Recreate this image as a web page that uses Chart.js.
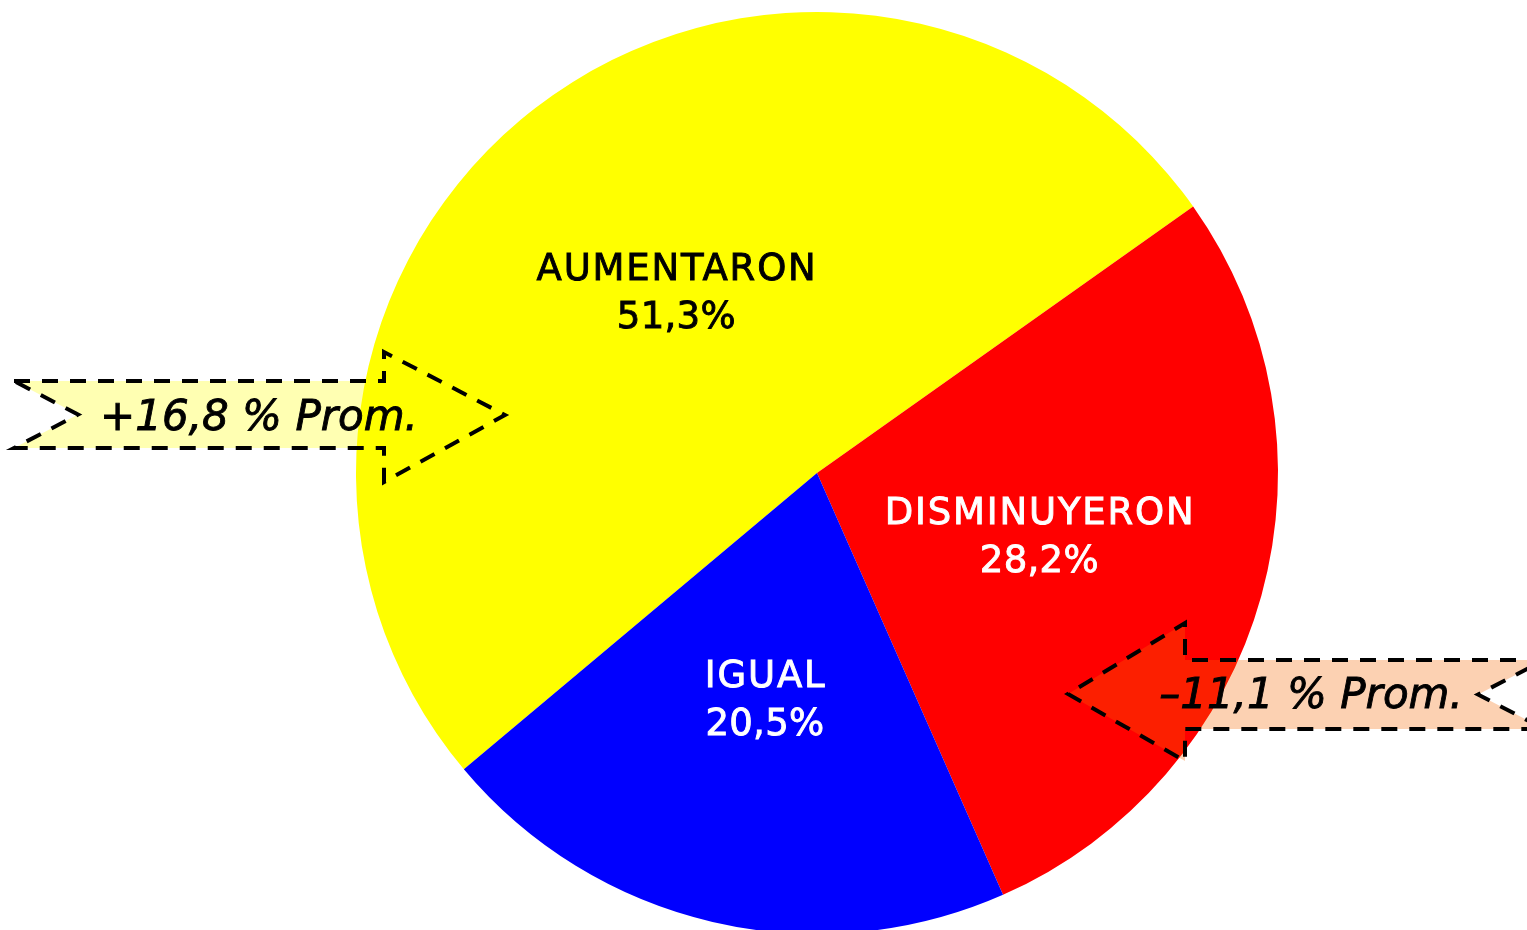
<!DOCTYPE html>
<html><head><meta charset="utf-8">
<script src="https://cdn.jsdelivr.net/npm/chart.js@4.4.0/dist/chart.umd.min.js"></script>
<style>html,body{margin:0;padding:0;background:#fff;overflow:hidden}</style>
</head><body>
<canvas id="c" width="1527" height="930" style="display:block;width:1527px;height:930px"></canvas>
<script>
// ---- data ----
const categories = ['AUMENTARON', 'DISMINUYERON', 'IGUAL'];
const values = [51.3, 28.2, 20.5];
const valueLabels = ['51,3%', '28,2%', '20,5%'];
const noteTexts = ['+16,8 % Prom.', '\u201311,1 % Prom.'];

// ---- styles ----
const sliceColors = ['#FFFF00', '#FF0000', '#0000FF'];
const labelColors = ['#000000', '#FFFFFF', '#FFFFFF'];

const noteShapes = [
  { tailX: 14, notchX: 78, bodyTop: 381, bodyBot: 448, headBaseX: 384, headTop: 352, headBot: 482, tipX: 505, tipY: 415,
    fill: 'rgba(255,255,0,0.3)', textX: 259, textY: 419 },
  { tailX: 1544, notchX: 1478, bodyTop: 660, bodyBot: 729, headBaseX: 1185, headTop: 623, headBot: 761, tipX: 1068, tipY: 694,
    fill: 'rgba(245,102,0,0.3)', textX: 1311, textY: 697 }
];

function drawText(ctx, txt, x, y, color, spacing) {
  ctx.letterSpacing = spacing + 'px';
  ctx.fillStyle = color;
  ctx.strokeStyle = color;
  ctx.lineWidth = 0.9;
  ctx.fillText(txt, x + spacing / 2, y);
  ctx.strokeText(txt, x + spacing / 2, y);
}

const sliceLabelPlugin = {
  id: 'sliceLabels',
  afterDatasetsDraw(chart) {
    const ctx = chart.ctx;
    const meta = chart.getDatasetMeta(0);
    ctx.save();
    ctx.font = '37px "DejaVu Sans"';
    ctx.textAlign = 'center';
    ctx.textBaseline = 'middle';
    meta.data.forEach((arc, i) => {
      const p = arc.getCenterPoint();
      drawText(ctx, categories[i], p.x, p.y - 20, labelColors[i], 1.8);
      drawText(ctx, valueLabels[i], p.x, p.y + 28, labelColors[i], 0.3);
    });
    ctx.restore();
  }
};

const notePlugin = {
  id: 'notes',
  afterDraw(chart) {
    const ctx = chart.ctx;
    noteShapes.forEach((s, i) => {
      ctx.save();
      ctx.beginPath();
      ctx.moveTo(s.tailX, s.bodyTop);
      ctx.lineTo(s.headBaseX, s.bodyTop);
      ctx.lineTo(s.headBaseX, s.headTop);
      ctx.lineTo(s.tipX, s.tipY);
      ctx.lineTo(s.headBaseX, s.headBot);
      ctx.lineTo(s.headBaseX, s.bodyBot);
      ctx.lineTo(s.tailX, s.bodyBot);
      ctx.lineTo(s.notchX, (s.bodyTop + s.bodyBot) / 2);
      ctx.closePath();
      ctx.fillStyle = s.fill;
      ctx.fill();
      ctx.setLineDash([16, 12]);
      ctx.lineWidth = 4;
      ctx.strokeStyle = '#000000';
      ctx.stroke();
      ctx.setLineDash([]);
      ctx.font = 'italic 42px "DejaVu Sans"';
      ctx.textAlign = 'center';
      ctx.textBaseline = 'middle';
      drawText(ctx, noteTexts[i], s.textX, s.textY, '#000000', 0);
      ctx.restore();
    });
  }
};

new Chart(document.getElementById('c'), {
  type: 'pie',
  data: {
    labels: categories,
    datasets: [{
      data: values,
      backgroundColor: sliceColors,
      borderWidth: 0,
      radius: 461
    }]
  },
  options: {
    responsive: false,
    animation: false,
    devicePixelRatio: 1,
    rotation: 230,
    layout: { padding: { left: 107, top: 16, right: 0, bottom: 0 } },
    plugins: { legend: { display: false }, tooltip: { enabled: false } }
  },
  plugins: [sliceLabelPlugin, notePlugin]
});
</script>
</body></html>
